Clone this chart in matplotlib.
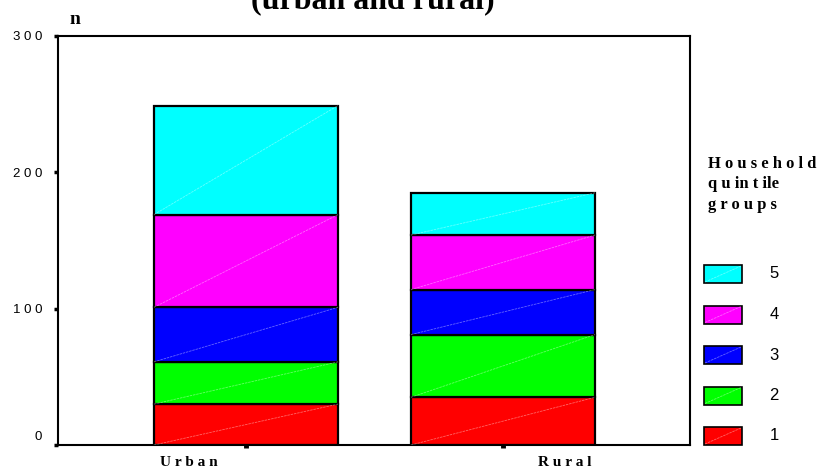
import numpy as np
import matplotlib
matplotlib.use('Agg')
import matplotlib.pyplot as plt
from matplotlib.patches import Rectangle
from matplotlib.lines import Line2D
from matplotlib.transforms import ScaledTranslation

# data
categories = ['Urban', 'Rural']
cat_labels = ['U r b a n', 'R u r a l']
groups = ['1', '2', '3', '4', '5']
q1 = [30, 35]
q2 = [31, 46]
q3 = [40, 33]
q4 = [68, 40]
q5 = [80, 31]
series = [q1, q2, q3, q4, q5]
colors = ['#ff0000', '#00ff00', '#0000ff', '#ff00ff', '#00ffff']
yticks = [0, 100, 200, 300]
ytick_labels = ['0', '1 0 0', '2 0 0', '3 0 0']

W, H = 822, 470
SERIF = 'Liberation Serif'
SANS = 'Liberation Sans'


def fx(px):
    return px / W


def fy(py):
    return 1 - py / H


fig = plt.figure(figsize=(W / 100, H / 100), dpi=100)
ax = fig.add_axes([fx(58), fy(445), (690 - 58) / W, (445 - 36) / H])

x = np.arange(len(categories))
width = 0.716
bottom = np.zeros(len(categories))
for vals, c in zip(series, colors):
    vals = np.array(vals, dtype=float)
    ax.bar(x, vals, width, bottom=bottom, color=c, edgecolor='black',
           linewidth=1.6, zorder=2)
    # faint diagonal line inside each segment
    for xi, b, v in zip(x, bottom, vals):
        ax.plot([xi - width / 2, xi + width / 2], [b, b + v], color='white',
                lw=0.6, alpha=0.4, ls=(0, (3, 1)), zorder=3)
    bottom += vals

ax.set_xlim(-0.7315, 1.7276)
ax.set_ylim(0, 300)
ax.set_xticks(x)
ax.set_xticklabels(['', ''])
ax.set_yticks(yticks)
ax.set_yticklabels(ytick_labels, fontfamily=SANS, fontsize=9.5)
ax.tick_params(axis='y', length=3, width=2.5, pad=8.5)
ax.tick_params(axis='x', length=2, width=3.5)
for s in ax.spines.values():
    s.set_linewidth(1.5)

# the zero label sits a bit higher in the reference
lbl0 = ax.get_yticklabels()[0]
lbl0.set_transform(lbl0.get_transform() + ScaledTranslation(0, 0.10, fig.dpi_scale_trans))

# category labels (offset from the ticks as in the original)
for xi, lab, off in zip(x, cat_labels, [-0.222, 0.241]):
    ax.text(xi + off, -0.044, lab, transform=ax.get_xaxis_transform(),
            ha='center', va='center', fontfamily=SERIF, fontweight='bold',
            fontsize=11)

fig.text(fx(75), fy(20), 'n', ha='center', va='center', fontfamily=SERIF,
         fontweight='bold', fontsize=14)
# title is cut at the top edge in the original
fig.text(fx(372.5), fy(8), '(urban and rural)', ha='center', va='baseline',
         fontfamily=SERIF, fontweight='bold', fontsize=23)

# legend
for i, line in enumerate(['H o u s e h o l d', 'q u in t ile', 'g r o u p s']):
    fig.text(fx(708), fy(164 + i * 20.5), line, ha='left', va='center',
             fontfamily=SERIF, fontweight='bold', fontsize=12)

for i, (g, c) in enumerate(zip(groups, colors)):
    yc = 436 - i * 40.5
    fig.add_artist(Rectangle((fx(704), fy(yc + 9)), 38 / W, 18 / H,
                             transform=fig.transFigure, facecolor=c,
                             edgecolor='black', linewidth=1.2))
    fig.add_artist(Line2D([fx(705), fx(741)], [fy(yc + 8), fy(yc - 8)],
                          transform=fig.transFigure, color='white', lw=0.6,
                          alpha=0.4, ls=(0, (3, 1))))
    fig.text(fx(774), fy(yc), g, ha='center', va='center', fontfamily=SANS,
             fontsize=12)

fig.savefig('out.png', dpi=100)
